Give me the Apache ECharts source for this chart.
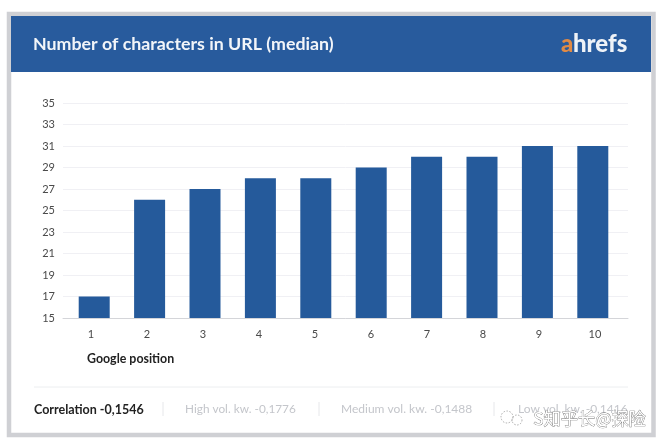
<!DOCTYPE html>
<html><head><meta charset="utf-8">
<style>html,body{margin:0;padding:0;background:#fff}#c{width:663px;height:448px}</style>
<script src="https://cdn.jsdelivr.net/npm/echarts@6/dist/echarts.min.js"></script>
</head><body><div id="c"></div>
<script>
const categories=['1','2','3','4','5','6','7','8','9','10'];
const medianChars=[17,26,27,28,28,29,30,30,31,31];
const yMin=15,yMax=35,yStep=2;
const titleText='Number of characters in URL (median)';
const xName='Google position';
const footer=['Correlation -0,1546','High vol. kw. -0,1776','Medium vol. kw. -0,1488','Low vol. kw. -0,1416'];
const watermark='S知乎长@探险';
const font='Lato';
const plotTop=103,plotBottom=130;
const hiddenX={type:'category',data:categories,axisLabel:{show:false},axisTick:{show:false},axisLine:{show:false}};
const hiddenY={type:'value',min:yMin,max:yMax,interval:yStep,axisLabel:{show:false},axisTick:{show:false},axisLine:{show:false},splitLine:{show:false}};
const chart=echarts.init(document.getElementById('c'),null,{renderer:'canvas'});
chart.setOption({
 animation:false,
 backgroundColor:'#fff',
 grid:[
  {left:63,width:565,top:plotTop,bottom:plotBottom},   // rules and y labels
  {left:66.5,width:554,top:plotTop,bottom:plotBottom}, // bars
  {left:63,width:560,top:plotTop,bottom:plotBottom}    // x labels
 ],
 xAxis:[
  {gridIndex:0,type:'category',data:categories,axisTick:{show:false},axisLabel:{show:false},
   axisLine:{lineStyle:{color:'#d4d5d9',width:1}}},
  {...hiddenX,gridIndex:1},
  {...hiddenX,gridIndex:2,axisLabel:{show:true,color:'#4a4a4a',fontFamily:font,fontSize:11,margin:11}}
 ],
 yAxis:[
  {gridIndex:0,type:'value',min:yMin,max:yMax,interval:yStep,axisLine:{show:false},axisTick:{show:false},
   splitLine:{lineStyle:{color:'#f0f0f4',width:1}},
   axisLabel:{color:'#4a4a4a',fontFamily:font,fontSize:11,margin:8}},
  {...hiddenY,gridIndex:1},
  {...hiddenY,gridIndex:2}
 ],
 series:[{type:'bar',xAxisIndex:1,yAxisIndex:1,data:medianChars,barWidth:31,z:3,itemStyle:{color:'#255a9b'}}],
 graphic:{elements:[
  {type:'rect',z:-10,silent:true,shape:{x:9,y:14,width:644.5,height:421},style:{fill:'#fff',stroke:'#cfd0d4',lineWidth:4.5}},
  {type:'rect',z:-5,silent:true,shape:{x:11,y:16,width:640,height:56},style:{fill:'#285b9d'}},
  {type:'text',left:33,top:35,style:{text:titleText,fill:'#f2f5f9',font:'bold 17.8px '+font}},
  {type:'text',left:561,top:32,style:{text:'a',fill:'#e08a45',font:'900 24px '+font}},
  {type:'text',left:573,top:32,style:{text:'hrefs',fill:'#eef2f7',font:'900 24px '+font}},
  {type:'text',left:87,top:353,style:{text:xName,fill:'#222',font:'bold 12.4px '+font}},
  {type:'line',shape:{x1:34,y1:387,x2:628,y2:387},style:{stroke:'#eceef0',lineWidth:1}},
  {type:'text',left:34,top:403,style:{text:footer[0],fill:'#222',font:'bold 12.5px '+font}},
  {type:'line',shape:{x1:163,y1:402,x2:163,y2:416},style:{stroke:'#e6e7ea',lineWidth:1}},
  {type:'text',left:185,top:403,style:{text:footer[1],fill:'#c4c6cb',font:'11.8px '+font}},
  {type:'line',shape:{x1:319,y1:402,x2:319,y2:416},style:{stroke:'#e6e7ea',lineWidth:1}},
  {type:'text',left:341,top:403,style:{text:footer[2],fill:'#c4c6cb',font:'12px '+font}},
  {type:'line',shape:{x1:494,y1:402,x2:494,y2:416},style:{stroke:'#e6e7ea',lineWidth:1}},
  {type:'text',left:518,top:403,style:{text:footer[3],fill:'#c4c6cb',font:'12px '+font}},
  {type:'circle',z:20,shape:{cx:507,cy:417,r:6},style:{fill:'none',stroke:'#9a9a9a',lineWidth:0.8,lineDash:[1.5,1.5]}},
  {type:'circle',z:20,shape:{cx:517,cy:420,r:5},style:{fill:'none',stroke:'#9a9a9a',lineWidth:0.8,lineDash:[1.5,1.5]}},
  {type:'text',z:20,left:533,top:410,style:{text:watermark,fill:'#ffffff',stroke:'#6f6f6f',lineWidth:0.7,font:'17.2px "Noto Sans CJK SC"'}}
 ]}
});
</script></body></html>
